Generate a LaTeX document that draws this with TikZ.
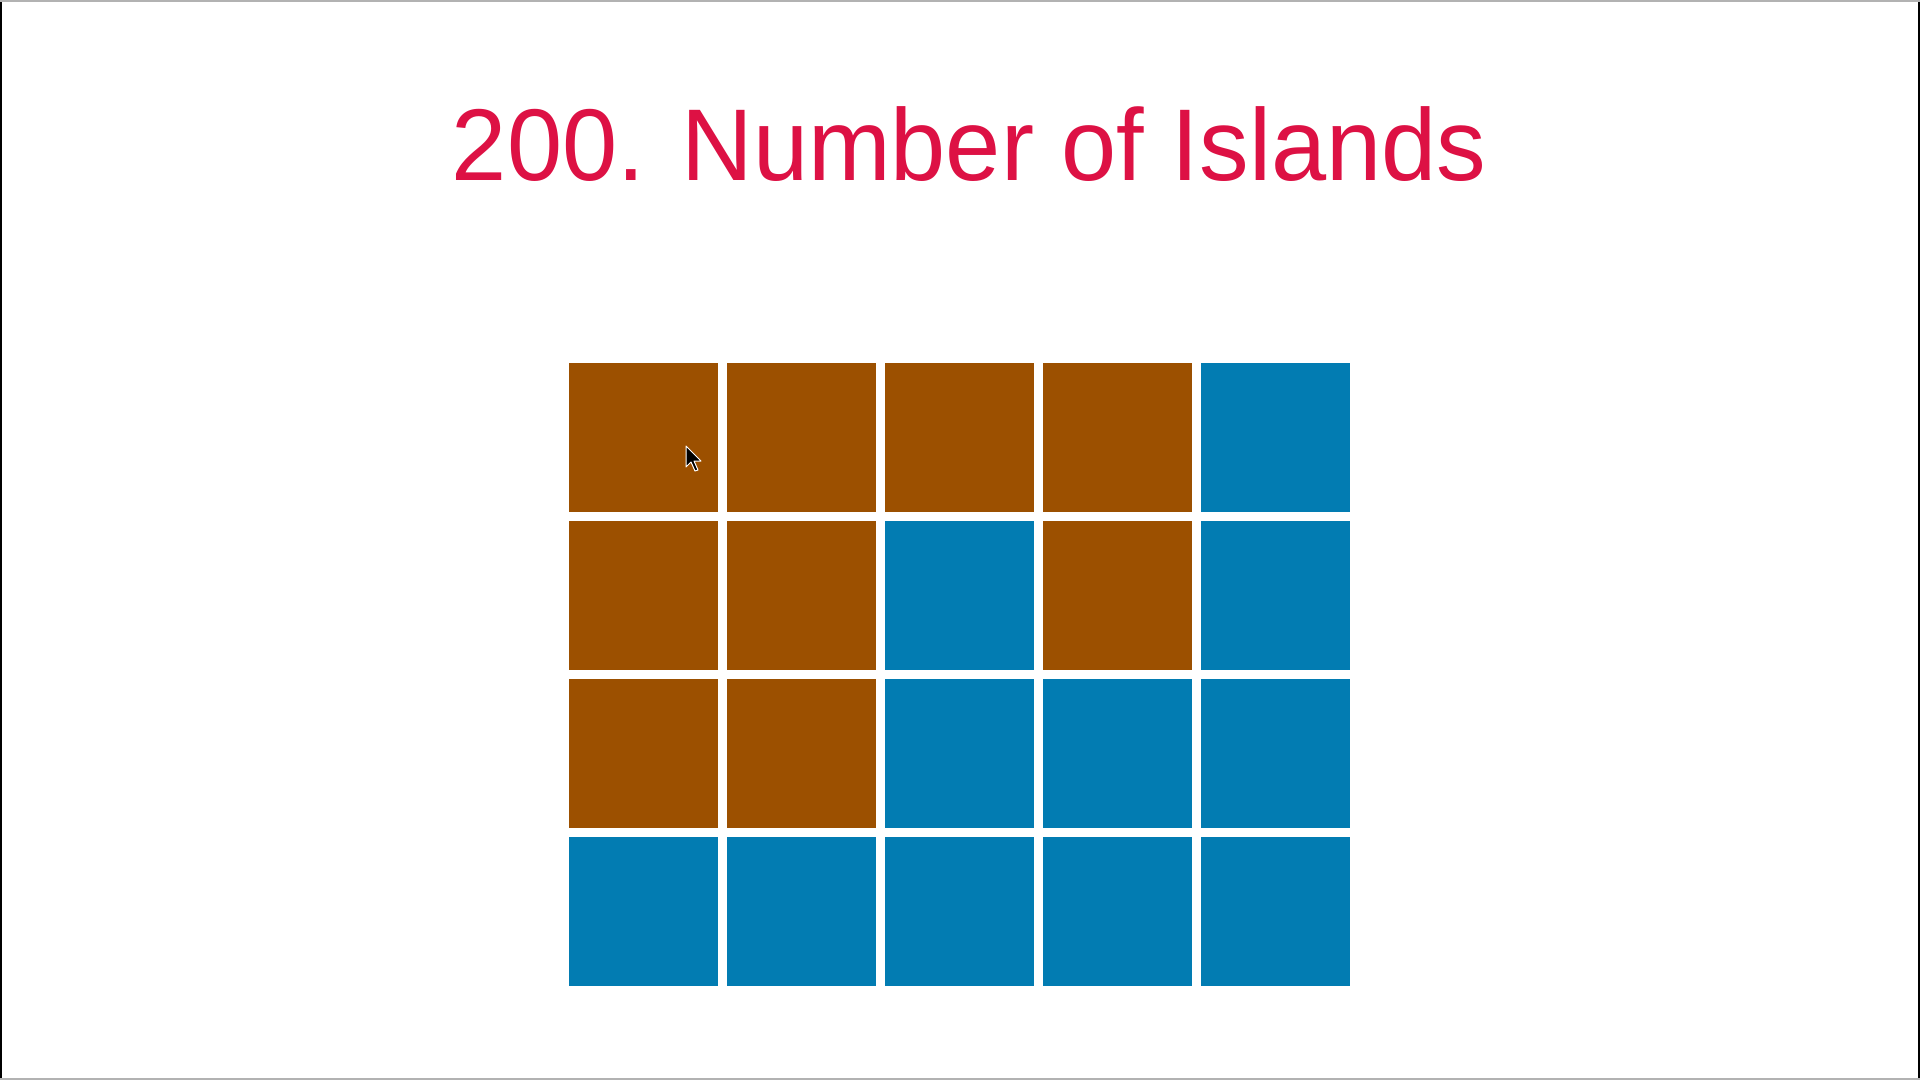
\documentclass[tikz,border=0pt]{standalone}
\usepackage{fontspec}
\setmainfont{Liberation Sans}
\newfontfamily\titlefont[FakeStretch=0.972]{Liberation Sans}
\definecolor{titlered}{RGB}{221,17,68}
\definecolor{land}{RGB}{156,80,0}
\definecolor{water}{RGB}{2,124,178}
\begin{document}
\begin{tikzpicture}[x=0.5pt,y=-0.5pt,
  cell/.style={minimum width=74.5pt,minimum height=74.5pt,inner sep=0pt,outer sep=0pt,anchor=north west},
  landcell/.style={cell,fill=land},
  watercell/.style={cell,fill=water}]
\useasboundingbox (0,0) rectangle (1920,1080);
\fill[white] (0,0) rectangle (1920,1080);
\draw[black,line width=1.2pt] (1,0) -- (1,1080);
\draw[black,line width=1.2pt] (1919,0) -- (1919,1080);
\draw[gray!60,line width=0.8pt] (0,1) -- (1920,1);
\draw[gray!60,line width=0.8pt] (0,1079) -- (1920,1079);
\node[text=titlered,font=\titlefont\fontsize{51}{60}\selectfont,anchor=base] (title) at (969,181) {200. Number of Islands};
\foreach \r/\row in {0/{1,1,1,1,0},1/{1,1,0,1,0},2/{1,1,0,0,0},3/{0,0,0,0,0}}{
  \foreach \v [count=\c from 0] in \row {
    \ifnum\v=1
      \node[landcell] (c\r\c) at ({569+158*\c},{363+158*\r}) {};
    \else
      \node[watercell] (c\r\c) at ({569+158*\c},{363+158*\r}) {};
    \fi
  }
}
% mouse cursor
\filldraw[fill=black,draw=white,line width=0.5pt,line join=round]
  (686,446) -- (686,467) -- (691,462) -- (695,471) -- (698,470) -- (694,461) -- (701,461) -- cycle;
\end{tikzpicture}
\end{document}
